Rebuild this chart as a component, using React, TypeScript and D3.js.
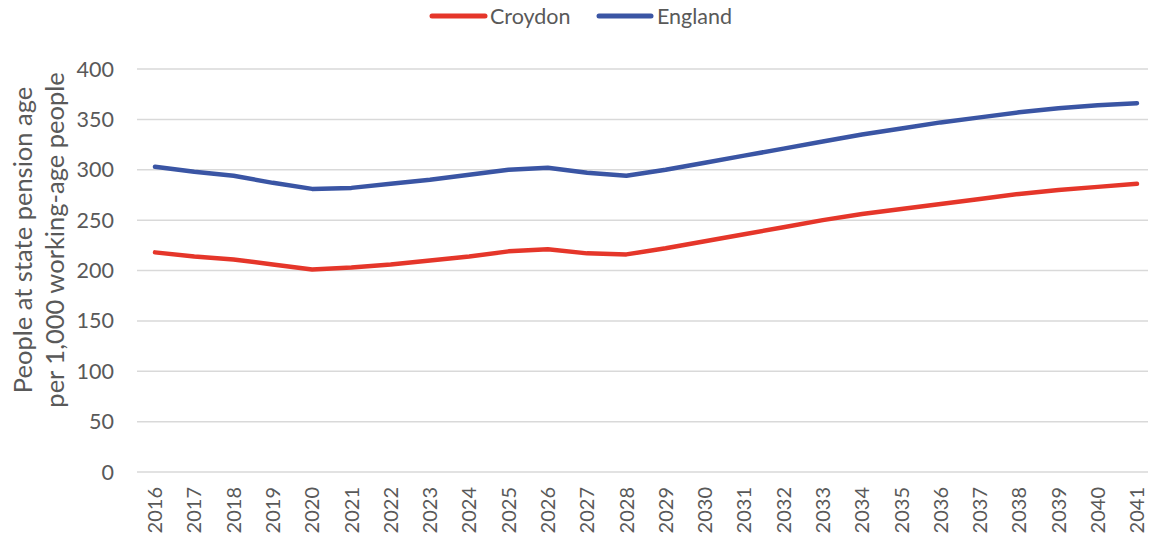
import React from "react";
import * as d3 from "d3";

const years = [2016,2017,2018,2019,2020,2021,2022,2023,2024,2025,2026,2027,2028,2029,2030,2031,2032,2033,2034,2035,2036,2037,2038,2039,2040,2041];
const england = [303,298,294,287,281,282,286,290,295,300,302,297,294,300,307,314,321,328,335,341,347,352,357,361,364,366];
const croydon = [218,214,211,206,201,203,206,210,214,219,221,217,216,222,229,236,243,250,256,261,266,271,276,280,283,286];
const yTicks = [0,50,100,150,200,250,300,350,400];
const seriesNames = ["Croydon", "England"];

const W = 1149, H = 541;
const RED = "#E5362A";
const BLUE = "#3A55A4";
const TXT = "#595959";
const FONT = "Lato, 'Open Sans', sans-serif";

export default function App() {
  const x = d3.scalePoint<number>().domain(years).range([155, 1137]);
  const y = d3.scaleLinear().domain([0, 400]).range([472, 69]);
  const line = d3.line<number>().x((_, i) => x(years[i])!).y(d => y(d));
  const series = [
    { name: seriesNames[0], data: croydon, color: RED },
    { name: seriesNames[1], data: england, color: BLUE },
  ];
  return (
    <div style={{ position: "absolute", left: 0, top: 0 }}>
      <svg width={W} height={H} style={{ display: "block", fontFamily: FONT }}>
        <rect width={W} height={H} fill="#fff" />
        {yTicks.map(t => (
          <g key={t}>
            <line x1={137} x2={1148} y1={y(t)} y2={y(t)} stroke="#d9d9d9" strokeWidth={1.5} />
            <text x={114} y={y(t)} dy="0.35em" textAnchor="end" fontSize={21.5} fill={TXT}>{t}</text>
          </g>
        ))}
        {years.map(yr => (
          <text key={yr} transform={`translate(${x(yr)},487) rotate(-90)`} dy="0.36em" textAnchor="end" fontSize={20} fill={TXT}>{yr}</text>
        ))}
        <g transform="translate(0,240) rotate(-90)" fill={TXT} fontSize={25.5} textAnchor="middle">
          <text x={0} y={32}>People at state pension age</text>
          <text x={0} y={64}>per 1,000 working-age people</text>
        </g>
        {series.map(s => (
          <path key={s.name} d={line(s.data)!} fill="none" stroke={s.color} strokeWidth={4.5} strokeLinecap="round" strokeLinejoin="round" />
        ))}
        <g fontSize={21.5} fill={TXT}>
          <line x1={432} x2={485} y1={16} y2={16} stroke={RED} strokeWidth={5} strokeLinecap="round" />
          <text x={490} y={16} dy="0.35em">{seriesNames[0]}</text>
          <line x1={599} x2={651} y1={16} y2={16} stroke={BLUE} strokeWidth={5} strokeLinecap="round" />
          <text x={657} y={16} dy="0.35em">{seriesNames[1]}</text>
        </g>
      </svg>
    </div>
  );
}
